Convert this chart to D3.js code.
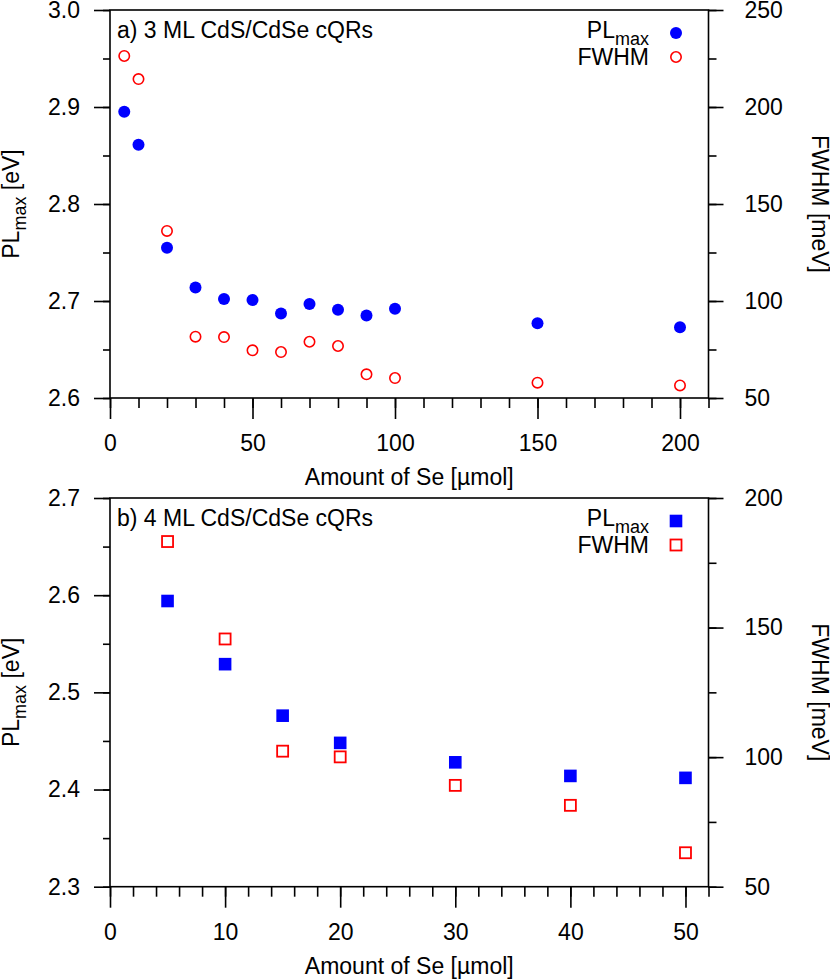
<!DOCTYPE html>
<html>
<head>
<meta charset="utf-8">
<script src="https://cdn.jsdelivr.net/npm/d3@7"></script>
<style>
body { margin: 0; background: #fff; }
svg { display: block; font-family: "Liberation Sans", Arial, sans-serif; }
</style>
</head>
<body>
<div id="chart"></div>
<script>
// panel a) 3 ML
const seA = [5, 10, 20, 30, 40, 50, 60, 70, 80, 90, 100, 150, 200];
const plA = [2.895, 2.861, 2.755, 2.714, 2.702, 2.701, 2.687, 2.697, 2.691, 2.685, 2.692, 2.677, 2.673];
const fwhmA = [226.3, 214.4, 136.1, 81.6, 81.4, 74.6, 73.7, 79.0, 76.8, 62.2, 60.3, 57.9, 56.5];

// panel b) 4 ML
const seB = [5, 10, 15, 20, 30, 40, 50];
const plB = [2.594, 2.529, 2.476, 2.448, 2.428, 2.414, 2.412];
const fwhmB = [183.2, 145.6, 102.3, 100.1, 89.1, 81.4, 63.1];

// ticks
const xTicksA = [0, 50, 100, 150, 200];
const xTicksB = [0, 10, 20, 30, 40, 50];
const plTicksA = [2.6, 2.7, 2.8, 2.9, 3.0];
const plTicksB = [2.3, 2.4, 2.5, 2.6, 2.7];
const fwTicksA = [50, 100, 150, 200, 250];
const fwTicksB = [50, 100, 150, 200];

const width = 830, height = 980;
const left = 110, right = 708.5;
const fs = 23;
const blue = "#0000ff", red = "#ff0000";

const svg = d3.select("#chart").append("svg")
    .attr("width", width)
    .attr("height", height);

const range = (a, b, s) => d3.range(a, b + s / 2, s);

function style(g) {
    g.select(".domain").remove();
    g.attr("font-family", null).attr("font-size", fs);
    g.selectAll("line").attr("stroke", "#000").attr("stroke-width", 1.6);
    g.selectAll("text").attr("fill", "#000");
}

function plLabel(t, dyBack) {
    t.append("tspan").text("PL");
    t.append("tspan").attr("font-size", 18).attr("dy", 7).text("max");
    if (dyBack) t.append("tspan").attr("dy", -7).text(" [eV]");
}

function panel(p) {
    const h = p.bottom - p.top;
    const g = svg.append("g").attr("transform", `translate(0,${p.top})`);

    const x = d3.scaleLinear().domain(p.xDomain).range([left, right]);
    const yL = d3.scaleLinear().domain(p.plDomain).range([h, 0]);
    const yR = d3.scaleLinear().domain(p.fwDomain).range([h, 0]);

    // x axis
    g.append("g").attr("transform", `translate(0,${h})`)
        .call(d3.axisBottom(x).tickValues(p.xMinor).tickSize(10).tickFormat(""))
        .call(style);
    g.append("g").attr("transform", `translate(0,${h})`)
        .call(d3.axisBottom(x).tickValues(p.xTicks).tickSize(21).tickPadding(16).tickFormat(d3.format("d")))
        .call(style);

    // left axis
    g.append("g").attr("transform", `translate(${left},0)`)
        .call(d3.axisLeft(yL).tickValues(p.plMinor).tickSize(7).tickFormat(""))
        .call(style);
    g.append("g").attr("transform", `translate(${left},0)`)
        .call(d3.axisLeft(yL).tickValues(p.plTicks).tickSize(16).tickPadding(14).tickFormat(d3.format(".1f")))
        .call(style);

    // right axis
    g.append("g").attr("transform", `translate(${right},0)`)
        .call(d3.axisRight(yR).tickValues(p.fwMinor).tickSize(8).tickFormat(""))
        .call(style);
    g.append("g").attr("transform", `translate(${right},0)`)
        .call(d3.axisRight(yR).tickValues(p.fwTicks).tickSize(15).tickPadding(21).tickFormat(d3.format("d")))
        .call(style);

    g.append("rect")
        .attr("x", left).attr("y", 0)
        .attr("width", right - left).attr("height", h)
        .attr("fill", "none").attr("stroke", "#000").attr("stroke-width", 1.6);

    // titles
    g.append("text")
        .attr("x", (left + right) / 2).attr("y", h + 87)
        .attr("text-anchor", "middle").attr("font-size", fs)
        .text("Amount of Se [\u00b5mol]");

    const lt = g.append("text")
        .attr("transform", `translate(18.5,${h / 2}) rotate(-90)`)
        .attr("text-anchor", "middle").attr("font-size", fs);
    plLabel(lt, true);

    g.append("text")
        .attr("transform", `translate(812,${h / 2}) rotate(90)`)
        .attr("text-anchor", "middle").attr("font-size", fs)
        .text("FWHM [meV]");

    g.append("text")
        .attr("x", 117).attr("y", 28)
        .attr("font-size", fs)
        .text(p.label);

    // points
    const pts = p.se.map((s, i) => ({ s, pl: p.pl[i], fw: p.fw[i] }));
    if (p.shape === "circle") {
        g.selectAll(".fw").data(pts).join("circle").attr("class", "fw")
            .attr("cx", d => x(d.s)).attr("cy", d => yR(d.fw)).attr("r", 5.2)
            .attr("fill", "none").attr("stroke", red).attr("stroke-width", 1.6);
        g.selectAll(".pl").data(pts).join("circle").attr("class", "pl")
            .attr("cx", d => x(d.s)).attr("cy", d => yL(d.pl)).attr("r", 6)
            .attr("fill", blue);
    } else {
        g.selectAll(".fw").data(pts).join("rect").attr("class", "fw")
            .attr("x", d => x(d.s) - 5.5).attr("y", d => yR(d.fw) - 5.5)
            .attr("width", 11).attr("height", 11)
            .attr("fill", "none").attr("stroke", red).attr("stroke-width", 1.8);
        g.selectAll(".pl").data(pts).join("rect").attr("class", "pl")
            .attr("x", d => x(d.s) - 6.3).attr("y", d => yL(d.pl) - 6.3)
            .attr("width", 12.6).attr("height", 12.6)
            .attr("fill", blue);
    }

    // legend
    const lg = g.append("g");
    const t1 = lg.append("text").attr("x", 649).attr("y", 28)
        .attr("text-anchor", "end").attr("font-size", fs);
    plLabel(t1, false);
    lg.append("text").attr("x", 649).attr("y", 55)
        .attr("text-anchor", "end").attr("font-size", fs).text("FWHM");
    if (p.shape === "circle") {
        lg.append("circle").attr("cx", 676).attr("cy", 23).attr("r", 6).attr("fill", blue);
        lg.append("circle").attr("cx", 676).attr("cy", 47).attr("r", 5.2)
            .attr("fill", "none").attr("stroke", red).attr("stroke-width", 1.6);
    } else {
        lg.append("rect").attr("x", 676 - 6.3).attr("y", 23 - 6.3)
            .attr("width", 12.6).attr("height", 12.6).attr("fill", blue);
        lg.append("rect").attr("x", 676 - 5.5).attr("y", 47 - 5.5)
            .attr("width", 11).attr("height", 11)
            .attr("fill", "none").attr("stroke", red).attr("stroke-width", 1.8);
    }
}

panel({
    top: 10, bottom: 398,
    xDomain: [0, 210], xTicks: xTicksA, xMinor: range(0, 210, 10),
    plDomain: [2.6, 3.0], plTicks: plTicksA, plMinor: range(2.6, 3.0, 0.05),
    fwDomain: [50, 250], fwTicks: fwTicksA, fwMinor: range(50, 250, 25),
    se: seA, pl: plA, fw: fwhmA, shape: "circle",
    label: "a) 3 ML CdS/CdSe cQRs"
});

panel({
    top: 498, bottom: 886.7,
    xDomain: [0, 52], xTicks: xTicksB, xMinor: range(0, 52, 2),
    plDomain: [2.3, 2.7], plTicks: plTicksB, plMinor: range(2.3, 2.7, 0.05),
    fwDomain: [50, 200], fwTicks: fwTicksB, fwMinor: range(50, 200, 25),
    se: seB, pl: plB, fw: fwhmB, shape: "square",
    label: "b) 4 ML CdS/CdSe cQRs"
});
</script>
</body>
</html>
